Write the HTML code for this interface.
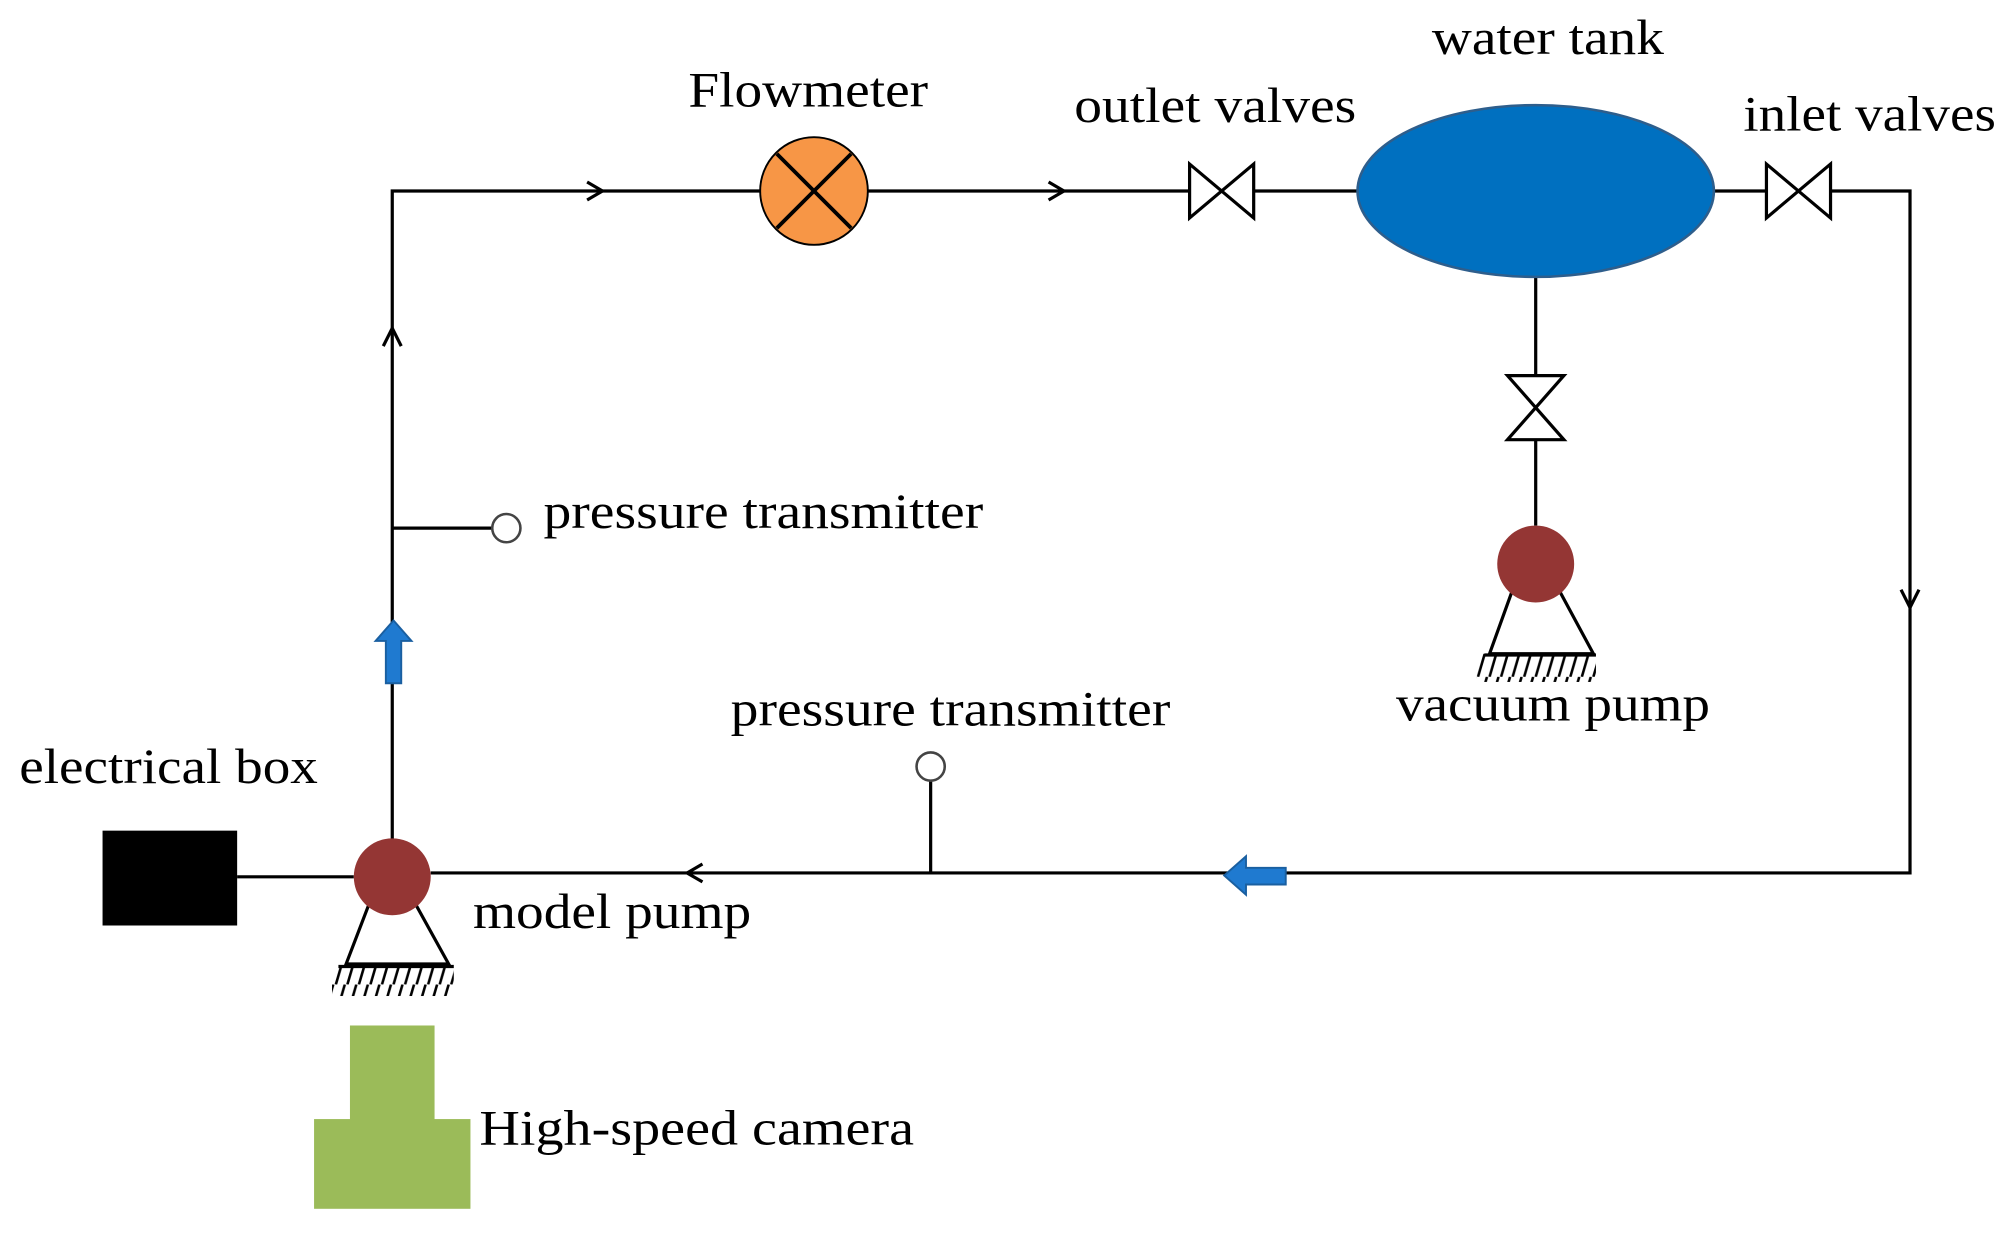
<!DOCTYPE html>
<html><head><style>html,body{margin:0;padding:0;background:#fff}svg{display:block}</style></head>
<body>
<svg width="2010" height="1237" viewBox="0 0 1568 965" preserveAspectRatio="none" xmlns="http://www.w3.org/2000/svg">
<defs><pattern id="h" width="9" height="24" patternUnits="userSpaceOnUse"><line x1="8" y1="0" x2="1" y2="24" stroke="#000" stroke-width="2"/></pattern></defs>
<g stroke="#000" stroke-width="2.5" fill="none">
<polyline points="306,684 306,149 928,149"/>
<line x1="978" y1="149" x2="1060" y2="149"/>
<line x1="1336" y1="149" x2="1378" y2="149"/>
<polyline points="1428,149 1490,149 1490,681 336,681"/>
<line x1="185" y1="684" x2="276" y2="684"/>
<line x1="1198" y1="216" x2="1198" y2="410"/>
<line x1="306" y1="412" x2="384" y2="412"/>
<line x1="726" y1="609" x2="726" y2="681"/>
<polyline points="458,142 470,149 458,156"/>
<polyline points="818,142 830,149 818,156"/>
<polyline points="299,270 306,256 313,270"/>
<polyline points="1483,460 1490,474 1497,460"/>
<polyline points="548,674 536,681 548,688"/>
</g>
<circle cx="635" cy="149" r="42" fill="#F79646" stroke="#000" stroke-width="1.5"/>
<line x1="606" y1="120" x2="664" y2="178" stroke="#000" stroke-width="3"/>
<line x1="664" y1="120" x2="606" y2="178" stroke="#000" stroke-width="3"/>
<polygon points="928,128 978,170 978,128 928,170" fill="#fff" stroke="#000" stroke-width="2.5"/>
<polygon points="1378,128 1428,170 1428,128 1378,170" fill="#fff" stroke="#000" stroke-width="2.5"/>
<polygon points="1176,293 1220,293 1176,343 1220,343" fill="#fff" stroke="#000" stroke-width="2.5"/>
<ellipse cx="1198" cy="149" rx="139" ry="67" fill="#0070C0" stroke="#2E5E8C" stroke-width="2"/>
<polygon points="1180,460 1162,510 1243,510 1216,460" fill="#fff" stroke="#000" stroke-width="2.5"/>
<rect x="1152" y="510" width="93" height="22" fill="url(#h)"/>
<line x1="1158" y1="511" x2="1245" y2="511" stroke="#000" stroke-width="2.5"/>
<circle cx="1198" cy="440" r="30" fill="#943634"/>
<polygon points="288,705 270,752 350,752 324,705" fill="#fff" stroke="#000" stroke-width="2.5"/>
<rect x="259" y="753" width="95" height="24" fill="url(#h)"/>
<line x1="264" y1="754" x2="354" y2="754" stroke="#000" stroke-width="2.5"/>
<circle cx="306" cy="684" r="30" fill="#943634"/>
<circle cx="395" cy="412" r="11" fill="#fff" stroke="#444" stroke-width="2"/>
<circle cx="726" cy="598" r="11" fill="#fff" stroke="#444" stroke-width="2"/>
<rect x="80" y="648" width="105" height="74" fill="#000"/>
<rect x="273" y="800" width="66" height="74" fill="#9BBB59"/>
<rect x="245" y="873" width="122" height="70" fill="#9BBB59"/>
<polygon points="301,533 313,533 313,500 321,500 307,484 293,500 301,500" fill="#1F7AD0" stroke="#1A5FA0" stroke-width="1.5"/>
<polygon points="1003,677 1003,690 972,690 972,698 955,683 972,668 972,677" fill="#1F7AD0" stroke="#1A5FA0" stroke-width="1.5"/>
<g font-family="Liberation Serif, serif" font-size="39" fill="#000" lengthAdjust="spacingAndGlyphs">
<text x="1117" y="42" textLength="181" lengthAdjust="spacingAndGlyphs">water tank</text>
<text x="537" y="83" textLength="187" lengthAdjust="spacingAndGlyphs">Flowmeter</text>
<text x="838" y="95" textLength="220" lengthAdjust="spacingAndGlyphs">outlet valves</text>
<text x="1360" y="102" textLength="197" lengthAdjust="spacingAndGlyphs">inlet valves</text>
<text x="424" y="412" textLength="343" lengthAdjust="spacingAndGlyphs">pressure transmitter</text>
<text x="570" y="566" textLength="343" lengthAdjust="spacingAndGlyphs">pressure transmitter</text>
<text x="1089" y="562" textLength="245" lengthAdjust="spacingAndGlyphs">vacuum pump</text>
<text x="15" y="611" textLength="233" lengthAdjust="spacingAndGlyphs">electrical box</text>
<text x="369" y="724" textLength="217" lengthAdjust="spacingAndGlyphs">model pump</text>
<text x="374" y="893" textLength="339" lengthAdjust="spacingAndGlyphs">High-speed camera</text>
</g>
</svg>
</body></html>
